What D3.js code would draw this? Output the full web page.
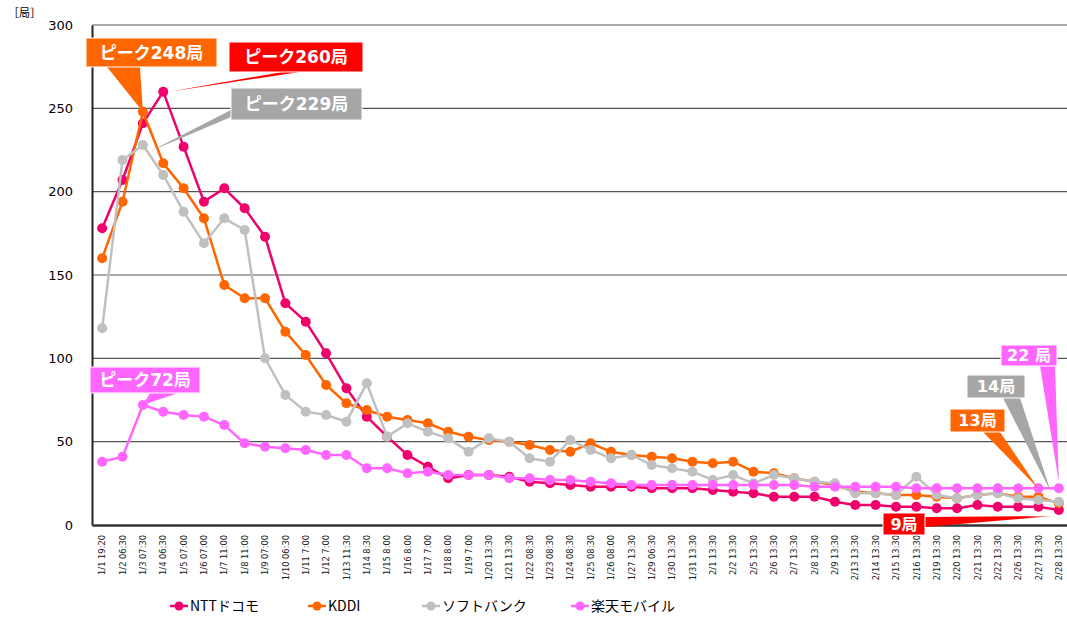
<!DOCTYPE html>
<html>
<head>
<meta charset="utf-8">
<script src="https://cdn.jsdelivr.net/npm/d3@7"></script>
<style>
  body { margin: 0; background: #fff; }
  svg { display: block; }
</style>
</head>
<body>
<div id="chart"></div>
<script>
const categories = ["1/1 19:20","1/2 06:30","1/3 07:30","1/4 06:30","1/5 07:00","1/6 07:00","1/7 11:00","1/8 11:00","1/9 07:00","1/10 06:30","1/11 7:00","1/12 7:00","1/13 11:30","1/14 8:30","1/15 8:00","1/16 8:00","1/17 7:00","1/18 8:00","1/19 7:00","1/20 13:30","1/21 13:30","1/22 08:30","1/23 08:30","1/24 08:30","1/25 08:30","1/26 08:00","1/27 13:30","1/29 06:30","1/30 13:30","1/31 13:30","2/1 13:30","2/2 13:30","2/5 13:30","2/6 13:30","2/7 13:30","2/8 13:30","2/9 13:30","2/13 13:30","2/14 13:30","2/15 13:30","2/16 13:30","2/19 13:30","2/20 13:30","2/21 13:30","2/22 13:30","2/26 13:30","2/27 13:30","2/28 13:30"];

const docomo = [178,207,241,260,227,194,202,190,173,133,122,103,82,65,53,42,35,28,30,30,29,26,25,24,23,23,23,22,22,22,21,20,19,17,17,17,14,12,12,11,11,10,10,12,11,11,11,9];
const kddi = [160,194,248,217,202,184,144,136,136,116,102,84,73,69,65,63,61,56,53,51,50,48,45,44,49,44,42,41,40,38,37,38,32,31,28,26,24,20,19,18,18,17,16,18,19,17,17,13];
const softbank = [118,219,228,210,188,169,184,177,100,78,68,66,62,85,53,61,56,52,44,52,50,40,38,51,45,40,42,36,34,32,27,30,25,30,28,26,25,19,19,18,29,18,16,18,19,16,15,14];
const rakuten = [38,41,72,68,66,65,60,49,47,46,45,42,42,34,34,31,32,30,30,30,28,28,27,27,26,25,24,24,24,24,24,24,24,24,24,23,23,23,23,23,22,22,22,22,22,22,22,22];

const seriesNames = ["NTTドコモ","KDDI","ソフトバンク","楽天モバイル"];
const yTicks = [0,50,100,150,200,250,300];

const series = [
  { name: seriesNames[0], values: docomo, color: "#f0006a", box: "#ff0000" },
  { name: seriesNames[1], values: kddi, color: "#ff6600", box: "#ff6600" },
  { name: seriesNames[2], values: softbank, color: "#c0c0c0", box: "#a6a6a6" },
  { name: seriesNames[3], values: rakuten, color: "#ff66ff", box: "#ff66ff" }
];

const width = 1067, height = 619;
const margin = { top: 25, left: 92, bottom: 94, right: -2 };

const svg = d3.select("#chart").append("svg")
  .attr("width", width).attr("height", height);

const x = d3.scalePoint()
  .domain(categories)
  .range([margin.left, width - margin.right])
  .padding(0.5);

const y = d3.scaleLinear()
  .domain([0, 300])
  .range([height - margin.bottom, margin.top]);

// gridlines
svg.append("g")
  .selectAll("line")
  .data(yTicks.filter(d => d > 0))
  .join("line")
  .attr("x1", margin.left).attr("x2", width)
  .attr("y1", d => y(d)).attr("y2", d => y(d))
  .attr("stroke", "#555").attr("stroke-width", 1.2);

// y axis
const yAxis = svg.append("g")
  .attr("transform", `translate(${margin.left},0)`)
  .call(d3.axisLeft(y).tickValues(yTicks).tickSize(0).tickPadding(19));
yAxis.select(".domain").attr("stroke", "#222").attr("stroke-width", 2);
yAxis.selectAll("text")
  .style("font-family", "DejaVu Sans, sans-serif")
  .style("font-size", "13px")
  .attr("fill", "#000");

// x axis
const xAxis = svg.append("g")
  .attr("transform", `translate(0,${y(0)})`)
  .call(d3.axisBottom(x).tickSize(0).tickPadding(0));
xAxis.select(".domain").attr("stroke", "#333").attr("stroke-width", 2.5);
xAxis.selectAll("text")
  .attr("transform", "rotate(-90)")
  .attr("x", -10).attr("y", 0).attr("dy", "0.32em")
  .style("text-anchor", "end")
  .style("font-family", "DejaVu Sans, sans-serif")
  .style("font-size", "8.3px")
  .attr("fill", "#222");

svg.append("text")
  .attr("x", 8).attr("y", 17)
  .style("font-family", "Noto Sans CJK JP, sans-serif")
  .style("font-size", "11px")
  .text("［局］");

// lines + markers
const line = d3.line()
  .x((d, i) => x(categories[i]))
  .y(d => y(d));

series.forEach(s => {
  const g = svg.append("g");
  g.append("path")
    .datum(s.values)
    .attr("d", line)
    .attr("fill", "none")
    .attr("stroke", s.color)
    .attr("stroke-width", 2.5);
  g.selectAll("circle")
    .data(s.values)
    .join("circle")
    .attr("cx", (d, i) => x(categories[i]))
    .attr("cy", d => y(d))
    .attr("r", 5)
    .attr("fill", s.color);
});

// callouts: box in pixels, pointer tip anchored on a data point
const callouts = [
  { s: 1, i: 2, text: "ピーク248局", box: [86, 38, 131, 29], base: [[107, 67], [140, 67]] },
  { s: 0, i: 3, text: "ピーク260局", box: [229, 42, 134, 30], base: [[282, 72], [300, 72]], tipDx: 6 },
  { s: 2, i: 2, text: "ピーク229局", box: [231, 88, 131, 32], base: [[231, 110], [231, 117]], tipDx: 8, tipDy: 6 },
  { s: 3, i: 2, text: "ピーク72局", box: [90, 367, 110, 26], base: [[150, 393], [178, 393]] },
  { s: 3, i: 47, text: "22 局", box: [1001, 345, 56, 21], base: [[1040, 366], [1055, 366]], tipDy: -6 },
  { s: 2, i: 47, text: "14局", box: [967, 375, 58, 23], base: [[1003, 398], [1020, 398]], tipDx: -8, tipDy: -10 },
  { s: 1, i: 46, text: "13局", box: [950, 409, 55, 23], base: [[983, 432], [1000, 432]], tipDy: -8 },
  { s: 0, i: 47, text: "9局", box: [883, 513, 42, 22], base: [[925, 517], [925, 527]], tipDx: -4, tipDy: 6, fade: true }
];

const defs = svg.append("defs");
const grad = defs.append("linearGradient").attr("id", "fadeRed")
  .attr("gradientUnits", "userSpaceOnUse")
  .attr("x1", 925).attr("x2", 1059).attr("y1", 0).attr("y2", 0);
grad.append("stop").attr("offset", "0%").attr("stop-color", "#ff0000");
grad.append("stop").attr("offset", "75%").attr("stop-color", "#ff0000");
grad.append("stop").attr("offset", "100%").attr("stop-color", "#ff0000").attr("stop-opacity", 0.1);

const cg = svg.append("g");
callouts.forEach(c => {
  const s = series[c.s];
  const tx = x(categories[c.i]) + (c.tipDx || 0);
  const ty = y(s.values[c.i]) + (c.tipDy || 0);
  const pts = [c.base[0], [tx, ty], c.base[1]];
  cg.append("path")
    .attr("d", "M" + pts.map(p => p.join(",")).join("L") + "Z")
    .attr("fill", c.fade ? "url(#fadeRed)" : s.box);
  const [bx, by, bw, bh] = c.box;
  cg.append("rect")
    .attr("x", bx).attr("y", by).attr("width", bw).attr("height", bh)
    .attr("fill", s.box)
    .attr("stroke", "#fff").attr("stroke-width", 1);
  cg.append("text")
    .attr("x", bx + bw / 2).attr("y", by + bh / 2)
    .attr("dy", "0.36em")
    .attr("text-anchor", "middle")
    .attr("fill", "#fff")
    .style("font-family", "DejaVu Sans, Noto Sans CJK JP, sans-serif")
    .style("font-weight", "bold")
    .style("font-size", bh > 25 ? "17px" : "16px")
    .text(c.text);
});

// legend
const legendX = [170, 308, 422, 571];
const lg = svg.append("g").attr("transform", "translate(0,606)");
series.forEach((s, k) => {
  const g = lg.append("g").attr("transform", `translate(${legendX[k]},0)`);
  g.append("line").attr("x1", 0).attr("x2", 18).attr("y1", 0).attr("y2", 0)
    .attr("stroke", s.color).attr("stroke-width", 2.5);
  g.append("circle").attr("cx", 9).attr("cy", 0).attr("r", 4.5).attr("fill", s.color);
  g.append("text").attr("x", 20).attr("y", 0).attr("dy", "0.36em")
    .style("font-family", "Noto Sans CJK JP, sans-serif")
    .style("font-size", "14px")
    .attr("fill", "#000")
    .text(s.name);
});
</script>
</body>
</html>
